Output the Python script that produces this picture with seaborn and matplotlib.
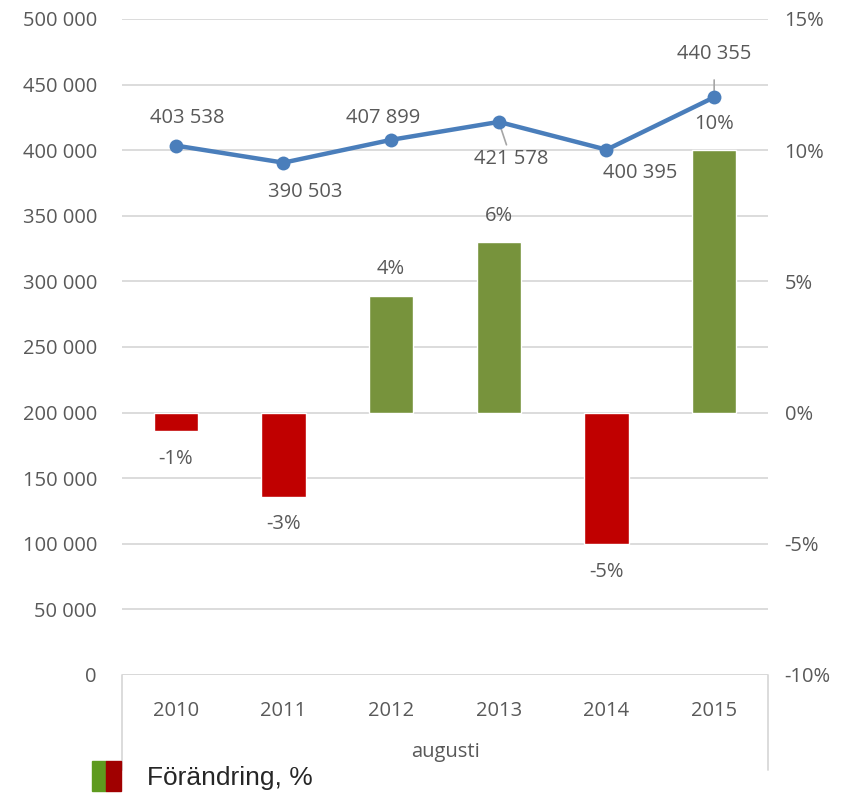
import numpy as np
import pandas as pd
import matplotlib
matplotlib.use("Agg")
import matplotlib.pyplot as plt
import seaborn as sns
from matplotlib.patches import Patch
from matplotlib.legend_handler import HandlerTuple

# data
years = ["2010", "2011", "2012", "2013", "2014", "2015"]
visitors = [403538, 390503, 407899, 421578, 400395, 440355]
change_pct = [-0.7, -3.2, 4.45, 6.5, -5.0, 10.0]
left_ticks = [0, 50000, 100000, 150000, 200000, 250000, 300000, 350000, 400000, 450000, 500000]
right_ticks = [-10, -5, 0, 5, 10, 15]

sns.set_theme(style="white")
plt.rcParams["font.family"] = ["Open Sans", "DejaVu Sans"]
txt = "#595959"
fs = 14.5
green, red, blue = "#77933C", "#C00000", "#4A7EBB"

df = pd.DataFrame({"year": years, "visitors": visitors, "change": change_pct})
bar_cols = [green if v >= 0 else red for v in change_pct]

fig = plt.figure(figsize=(8.5, 7.94), dpi=100)
ax = fig.add_axes([122 / 850, 1 - 675 / 794, 646 / 850, 656 / 794])
ax2 = ax.twinx()

# bars (percent change) on the right-hand scale
sns.barplot(data=df, x="year", y="change", hue="year", palette=bar_cols,
            saturation=1, width=0.41, legend=False, ax=ax, zorder=3)
ax.set_ylim(-10, 15)
ax.set_yticks(np.arange(-10, 15.1, 2.5))
ax.set_yticklabels([f"{int(t)}%" if t in right_ticks else "" for t in np.arange(-10, 15.1, 2.5)])
ax.yaxis.tick_right()
ax.grid(axis="y", color="#D9D9D9", lw=1.3)
ax.set_axisbelow(True)
for i, v in enumerate(change_pct):
    ax.annotate(f"{v:.0f}%", (i, v), xytext=(0, 19 if v > 0 else -20),
                textcoords="offset points", ha="center", va="center",
                fontsize=fs, color=txt)

# line (visitors) on the left-hand scale
sns.lineplot(data=df, x="year", y="visitors", color=blue, lw=3.2, marker="o",
             markersize=10, markeredgewidth=0, ax=ax2, zorder=4)
ax2.set_ylim(0, 500000)
ax2.set_yticks(left_ticks)
ax2.set_yticklabels([f"{t:,}".replace(",", " ") for t in left_ticks])
ax2.yaxis.tick_left()

# data labels were moved by hand in the original
offsets = [(8, 20), (16, -21), (-6, 16), (9, -27), (24, -17), (0, 31)]
for i, (v, off) in enumerate(zip(visitors, offsets)):
    lab = f"{v:,}".replace(",", " ")
    arrow = None
    if i in (3, 5):
        arrow = dict(arrowstyle="-", color="#A6A6A6", lw=1.2,
                     shrinkA=1 if i == 3 else 9, shrinkB=5)
    ax2.annotate(lab, (i, v), xytext=off, textcoords="offset points",
                 ha="center", va="center", fontsize=fs, color=txt, arrowprops=arrow)

for a in (ax, ax2):
    for s in a.spines.values():
        s.set_visible(False)
    a.tick_params(axis="y", length=0, labelsize=fs, labelcolor=txt)
    a.set_xlabel("")
    a.set_ylabel("")
ax2.tick_params(axis="y", pad=18)
ax.tick_params(axis="y", pad=12)

# category axis with group label
ax.set_xlim(-0.5, 5.5)
ax.tick_params(axis="x", length=0, labelsize=fs, labelcolor=txt, pad=19)
ax.axhline(-10, color="#D9D9D9", lw=1.3, zorder=2)
for x in (0, 1):
    ax.plot([x, x], [0, -0.145], transform=ax.transAxes, color="#D9D9D9",
            lw=1.3, clip_on=False)
ax.text(0.5, -0.118, "augusti", transform=ax.transAxes, ha="center",
        va="center", fontsize=fs, color=txt)

# legend with split colour patch
handle = (Patch(color="#5E9A1E"), Patch(color="#A00000"))
fig.legend([handle], ["Förändring, %"], handler_map={tuple: HandlerTuple(ndivide=None, pad=0)},
           loc="lower left", bbox_to_anchor=(0.080, -0.026), frameon=False,
           handlelength=1.1, handleheight=1.35, handletextpad=1.0,
           prop={"family": "Liberation Sans", "size": 19})

fig.savefig("out.png", dpi=100)
